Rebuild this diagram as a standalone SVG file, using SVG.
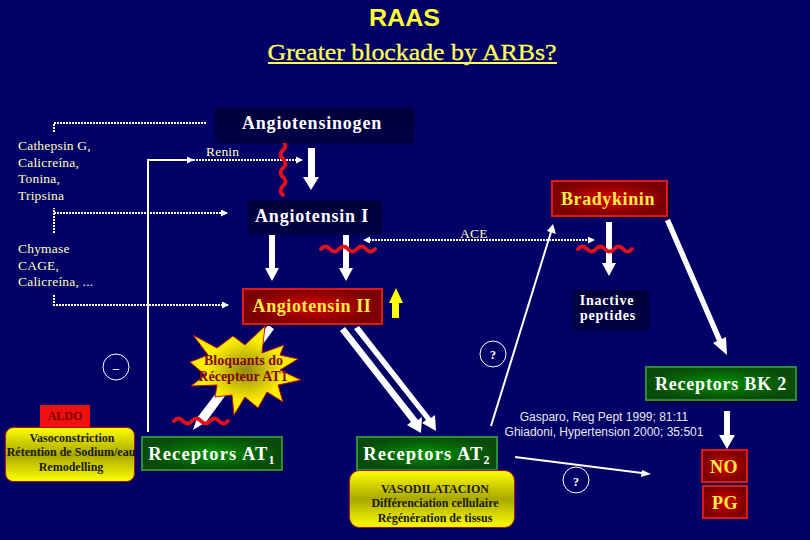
<svg xmlns="http://www.w3.org/2000/svg" width="810" height="540" viewBox="0 0 810 540">
<style>
text{font-family:"Liberation Serif","Times New Roman",serif}
.n{font-weight:bold;font-size:18px;fill:#fff;text-anchor:middle;letter-spacing:.8px}
.y{font-weight:bold;font-size:18px;fill:#ffee44;text-anchor:middle;letter-spacing:.6px}
.l{font-size:13.500px;fill:#ffffb8;letter-spacing:.2px}
.b{font-weight:bold;font-size:12px;fill:#1a1a00;text-anchor:middle}
.c{font-family:"Liberation Sans",Arial,sans-serif;font-size:12px;fill:#e8e8f0;text-anchor:middle}
.q{font-weight:bold;font-size:12px;fill:#fff;text-anchor:middle}
.s{fill:#000030}
.dark{fill:url(#gd);stroke:#000044;stroke-width:2}
.red{fill:url(#gr);stroke:#e01818;stroke-width:2}
.grn{fill:url(#gg);stroke:#2e8b3e;stroke-width:2}
.yel{fill:url(#gy);stroke:#b01010;stroke-width:1}
.dot{fill:none;stroke:#fff;stroke-width:2;stroke-dasharray:2 1}
.wl{fill:none;stroke:#fff;stroke-width:2}
.arrow{fill:#fff;stroke:none}
.sq{fill:none;stroke:#e0101c;stroke-width:4;stroke-linecap:round}
.circ{fill:none;stroke:#fff;stroke-width:1}
</style>
<defs>
<linearGradient id="gd" x1="0" y1="0" x2="0" y2="1"><stop offset="0" stop-color="#000038"/><stop offset="1" stop-color="#000048"/></linearGradient>
<radialGradient id="gr"><stop offset="0" stop-color="#d80000"/><stop offset="1" stop-color="#7a0000"/></radialGradient>
<radialGradient id="gg"><stop offset="0" stop-color="#009000"/><stop offset="1" stop-color="#0a4a0a"/></radialGradient>
<linearGradient id="gy" x1="0" y1="0" x2="0" y2="1"><stop offset="0" stop-color="#ffff00"/><stop offset=".5" stop-color="#a8a800"/><stop offset="1" stop-color="#ffff00"/></linearGradient>
<radialGradient id="gs"><stop offset="0" stop-color="#908a10"/><stop offset=".7" stop-color="#ffee00"/></radialGradient>
<marker id="dh" markerUnits="userSpaceOnUse" markerWidth="8" markerHeight="8" refX="6" refY="3.500" orient="auto"><path d="M0 0L7 3.500L0 7z" fill="#fff"/></marker>
<path id="wave" d="M0 0q4.500-5 9 0t9 0t9 0t9 0t9 0t9 0"/>
</defs>
<rect width="810" height="540" fill="#000066"/>

<g id="title">
<text x="404.500" y="26" font-size="24" font-weight="bold" text-anchor="middle" fill="#ffff33" style="font-family:'Liberation Sans',Arial,sans-serif" textLength="71" lengthAdjust="spacingAndGlyphs">RAAS</text>
<text x="412" y="60" font-size="24" fill="#ffff55" stroke="#ffff55" stroke-width=".3" text-anchor="middle" textLength="289" lengthAdjust="spacingAndGlyphs">Greater blockade by ARBs?</text>
<rect x="268" y="62" width="289" height="2" fill="#ffff55"/>
</g>

<g id="connectors">
<path class="dot" d="M54 132V123H206"/>
<path class="dot" d="M54 233V208M54 213H227" marker-end="url(#dh)"/>
<path class="dot" d="M54 295V305H228" marker-end="url(#dh)"/>
<path class="wl" d="M148 432V160H193" marker-end="url(#dh)"/>
<path class="dot" d="M193 160H302" marker-end="url(#dh)"/>
<path class="dot" d="M366 240H594" marker-end="url(#dh)"/>
<path d="M363 240L370 236.500V243.500z" fill="#fff"/>
<path class="arrow" d="M308 148H315V177H319L311 190L303 177H308z"/>
<path class="arrow" d="M269 231H275V268H279L272 281L265 268H269z"/>
<path class="arrow" d="M343 231H349V268H353L346 281L339 268H343z"/>
<path class="arrow" d="M606 222H612V263H616L609 276L602 263H606z"/>
<path class="arrow" d="M665 221L670 219L722 339L726 337L727 355L713 343L717 341z"/>
<path class="arrow" d="M724 411H730V435H735L727 449L719 435H724z"/>
<path d="M396 288L403 303H399V318H392V303H389z" fill="#ffff00"/>
<path class="wl" d="M491 426L551 232"/>
<path d="M553 224L556 234L547 231z" fill="#fff"/>
<path class="wl" d="M515 457L642 473"/>
<path d="M651 474L641 477L642 470z" fill="#fff"/>
<path class="arrow" d="M340 331L345 327L418 420L422 417L421 433L407 425L411 422z"/>
<path class="arrow" d="M354 329L359 326L431 418L435 415L436 431L422 423L426 420z"/>
<path class="arrow" d="M268 325L274 329L206 422L193 430L197 418z"/>
<use href="#wave" class="sq" transform="translate(321 249)"/>
<use href="#wave" class="sq" transform="translate(578 239) translate(0 10)"/>
<use href="#wave" class="sq" transform="translate(174 421)"/>
<use href="#wave" class="sq" transform="translate(283 141) rotate(90)"/>
</g>

<g id="labels">
<text class="l" x="18" y="150">Cathepsin G,</text>
<text class="l" x="18" y="167">Calicreína,</text>
<text class="l" x="18" y="183">Tonina,</text>
<text class="l" x="18" y="200">Tripsina</text>
<text class="l" x="18" y="253">Chymase</text>
<text class="l" x="18" y="270">CAGE,</text>
<text class="l" x="18" y="286">Calicreína, ...</text>
<text class="l" x="206" y="156">Renin</text>
<text class="l" x="460" y="238">ACE</text>
</g>

<g id="angiotensinogen"><rect class="s" x="217" y="110" width="197" height="33"/><rect class="dark" x="215" y="108" width="197" height="33"/><text class="n" x="312" y="129">Angiotensinogen</text></g>
<g id="angiotensin-1"><rect class="s" x="250" y="203" width="132" height="32"/><rect class="dark" x="248" y="201" width="132" height="32"/><text class="n" x="312" y="222">Angiotensin I</text></g>
<g id="angiotensin-2"><rect class="s" x="244" y="290" width="140" height="36"/><rect class="red" x="243" y="289" width="139" height="35"/><text class="y" x="312" y="312">Angiotensin II</text></g>
<g id="bradykinin"><rect class="s" x="554" y="183" width="116" height="35"/><rect class="red" x="552" y="181" width="115" height="35"/><text class="y" x="608" y="205">Bradykinin</text></g>
<g id="inactive-peptides"><rect class="dark" x="573" y="291" width="76" height="39"/><text class="n" style="font-size:14px" x="607" y="305">Inactive</text><text class="n" style="font-size:14px" x="608" y="320">peptides</text></g>
<g id="receptors-bk2"><rect class="s" x="647" y="368" width="151" height="35"/><rect class="grn" x="646" y="367" width="150" height="33"/><text class="n" x="721" y="390">Receptors BK 2</text></g>
<g id="receptors-at1"><rect class="s" x="143" y="438" width="141" height="34"/><rect class="grn" x="142" y="437" width="140" height="33"/><text class="n" x="212" y="460" style="font-size:18.500px;letter-spacing:1.100px">Receptors AT<tspan font-size="12" dy="4">1</tspan></text></g>
<g id="receptors-at2"><rect class="s" x="358" y="438" width="140" height="34"/><rect class="grn" x="357" y="437" width="140" height="33"/><text class="n" x="427" y="460" style="font-size:18.500px;letter-spacing:1.100px">Receptors AT<tspan font-size="12" dy="4">2</tspan></text></g>
<g id="no"><rect class="red" x="702" y="450" width="45" height="32"/><text class="y" x="724" y="473">NO</text></g>
<g id="pg"><rect class="red" x="703" y="486" width="44" height="32"/><text class="y" x="725" y="509">PG</text></g>
<g id="aldo"><rect x="40" y="405" width="50" height="23" fill="#f01010"/><text x="65" y="420" font-size="12" font-weight="bold" text-anchor="middle" fill="#7a0000">ALDO</text></g>
<g id="effects-at1"><rect class="yel" x="5.500" y="427.500" width="129" height="54" rx="8"/><text class="b" x="72" y="442">Vasoconstriction</text><text class="b" x="71" y="456">Rétention de Sodium/eau</text><text class="b" x="71" y="471">Remodelling</text></g>
<g id="effects-at2"><rect class="yel" x="349.500" y="470.500" width="165" height="57" rx="10"/><text class="b" x="435" y="493">VASODILATACION</text><text class="b" x="435" y="507">Différenciation cellulaire</text><text class="b" x="435" y="522">Régénération  de tissus</text></g>
<g id="blocker"><path d="M193 335L217 348L233 336L245 345L265 326L262 353L284 345L280 355L298 359L280 370L301 380L278 385L283 402L267 392L258 408L245 397L234 415L232 395L215 397L217 385L191 386L205 375L190 362L208 355z" fill="url(#gs)" stroke="#c01010" stroke-width="1"/><text x="243.500" y="365" font-size="14" font-weight="bold" text-anchor="middle" fill="#800a10">Bloquants do</text><text x="243" y="381" font-size="14" font-weight="bold" text-anchor="middle" fill="#800a10">Récepteur AT1</text></g>
<g id="minus"><circle class="circ" cx="116" cy="367" r="13"/><text class="q" x="116" y="372">–</text></g>
<g id="q1"><circle class="circ" cx="493" cy="354" r="13"/><text class="q" x="493" y="359">?</text></g>
<g id="q2"><circle class="circ" cx="576" cy="480" r="13"/><text class="q" x="576" y="486">?</text></g>
<g id="citations"><text class="c" x="604" y="421">Gasparo, Reg Pept 1999; 81:11</text><text class="c" x="604" y="436">Ghiadoni,  Hypertension 2000; 35:501</text></g>
</svg>
